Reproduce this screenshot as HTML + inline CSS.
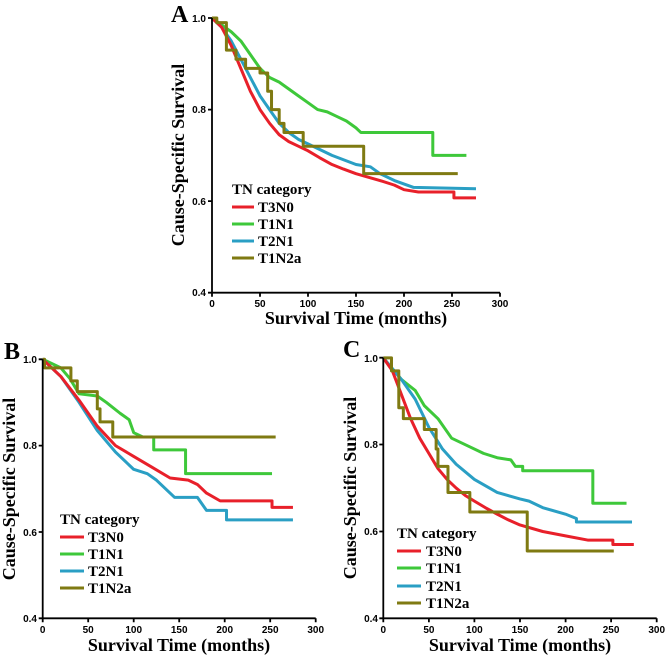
<!DOCTYPE html>
<html><head><style>
body{margin:0;background:#fff}
svg{display:block}
.t{font-family:"Liberation Sans",sans-serif;font-weight:bold;font-size:10px;fill:#000}
.ti{font-family:"Liberation Serif",serif;font-weight:bold;font-size:18px;fill:#000}
.lg{font-family:"Liberation Serif",serif;font-weight:bold;font-size:15px;fill:#000}
.pl{font-family:"Liberation Serif",serif;font-weight:bold;font-size:24px;fill:#000}
polyline{fill:none;stroke-width:3;stroke-linejoin:round}
.r{stroke:#e8202a}.g{stroke:#3ec83a}.b{stroke:#2a9fc4}.o{stroke:#7f7a12}
.ax{stroke:#000;stroke-width:1.8;fill:none}
</style></head><body>
<svg width="668" height="658" viewBox="0 0 668 658" xmlns="http://www.w3.org/2000/svg">
<!-- Panel A -->
<g transform="translate(212,292.7) scale(0.96,-457.8) translate(0,-0.4)">
<polyline vector-effect="non-scaling-stroke" class="g" points="0,1 10,0.985 20,0.97 30,0.95 40,0.92 50,0.89 55,0.88 60,0.87 70,0.86 80,0.845 90,0.83 100,0.815 110,0.80 120,0.795 130,0.785 140,0.775 150,0.76 155,0.75 230,0.75 230,0.70 265,0.70"/>
<polyline vector-effect="non-scaling-stroke" class="b" points="0,1 10,0.98 20,0.95 30,0.91 40,0.87 50,0.83 60,0.80 70,0.77 80,0.75 90,0.735 100,0.725 125,0.70 150,0.68 165,0.675 175,0.66 190,0.645 210,0.63 275,0.627"/>
<polyline vector-effect="non-scaling-stroke" class="r" points="0,1 10,0.98 20,0.94 30,0.89 40,0.84 50,0.80 60,0.77 70,0.745 80,0.73 90,0.72 100,0.71 112,0.695 125,0.68 137,0.67 150,0.66 175,0.645 190,0.635 200,0.625 215,0.62 252,0.62 252,0.607 275,0.607"/>
<polyline vector-effect="non-scaling-stroke" class="o" points="0,1 5,1 5,0.99 15,0.99 15,0.93 25,0.93 25,0.91 35,0.91 35,0.89 50,0.89 50,0.88 58,0.88 58,0.84 62,0.84 62,0.80 70,0.80 70,0.77 75,0.77 75,0.75 95,0.75 95,0.72 158,0.72 158,0.66 256,0.66"/>
</g>
<path class="ax" d="M212,18V292.7H500M208,18H212M208,109.6H212M208,201.1H212M208,292.7H212M212,292.7v4M260,292.7v4M308,292.7v4M356,292.7v4M404,292.7v4M452,292.7v4M500,292.7v4"/>
<g class="t" text-anchor="end"><text x="206" y="22">1.0</text><text x="206" y="113">0.8</text><text x="206" y="205">0.6</text><text x="206" y="296">0.4</text></g>
<g class="t" text-anchor="middle"><text x="212" y="307">0</text><text x="260" y="307">50</text><text x="308" y="307">100</text><text x="356" y="307">150</text><text x="404" y="307">200</text><text x="452" y="307">250</text><text x="500" y="307">300</text></g>
<text class="ti" x="356" y="324" text-anchor="middle">Survival Time (months)</text>
<text class="ti" transform="translate(184,155) rotate(-90)" text-anchor="middle">Cause-Specific Survival</text>
<text class="pl" x="171" y="22">A</text>
<text class="lg" x="232" y="194">TN category</text>
<g class="lg"><text x="258" y="212">T3N0</text><text x="258" y="229">T1N1</text><text x="258" y="246">T2N1</text><text x="258" y="263">T1N2a</text></g>
<path d="M232,207h22" class="r" stroke-width="3"/><path d="M232,224h22" class="g" stroke-width="3"/><path d="M232,241h22" class="b" stroke-width="3"/><path d="M232,258h22" class="o" stroke-width="3"/>

<!-- Panel B -->
<g transform="translate(42.7,618.3) scale(0.91,-431.7) translate(0,-0.4)">
<polyline vector-effect="non-scaling-stroke" class="g" points="0,1 20,0.98 30,0.955 40,0.92 60,0.915 70,0.90 85,0.875 95,0.86 100,0.83 110,0.82 122,0.82 122,0.79 157,0.79 157,0.735 252,0.735"/>
<polyline vector-effect="non-scaling-stroke" class="b" points="0,1 20,0.96 40,0.90 60,0.835 80,0.785 100,0.745 115,0.735 125,0.72 135,0.70 145,0.68 170,0.68 180,0.65 202,0.65 202,0.628 275,0.628"/>
<polyline vector-effect="non-scaling-stroke" class="r" points="0,1 20,0.96 40,0.905 60,0.845 80,0.80 100,0.775 120,0.75 140,0.725 160,0.72 170,0.71 180,0.69 195,0.672 252,0.672 252,0.657 275,0.657"/>
<polyline vector-effect="non-scaling-stroke" class="o" points="0,1 2,1 2,0.98 31,0.98 31,0.95 38,0.95 38,0.925 60,0.925 60,0.885 63,0.885 63,0.855 77,0.855 77,0.82 256,0.82"/>
</g>
<path class="ax" d="M42.7,359.3V618.3H315.7M38.7,359.3H42.7M38.7,445.6H42.7M38.7,532H42.7M38.7,618.3H42.7M42.7,618.3v4M88.2,618.3v4M133.7,618.3v4M179.2,618.3v4M224.7,618.3v4M270.2,618.3v4M315.7,618.3v4"/>
<g class="t" text-anchor="end"><text x="37" y="363">1.0</text><text x="37" y="449">0.8</text><text x="37" y="536">0.6</text><text x="37" y="622">0.4</text></g>
<g class="t" text-anchor="middle"><text x="42.7" y="633">0</text><text x="88.2" y="633">50</text><text x="133.7" y="633">100</text><text x="179.2" y="633">150</text><text x="224.7" y="633">200</text><text x="270.2" y="633">250</text><text x="315.7" y="633">300</text></g>
<text class="ti" x="179" y="651" text-anchor="middle">Survival Time (months)</text>
<text class="ti" transform="translate(15,489) rotate(-90)" text-anchor="middle">Cause-Specific Survival</text>
<text class="pl" x="4" y="359">B</text>
<text class="lg" x="60" y="524">TN category</text>
<g class="lg"><text x="88" y="542">T3N0</text><text x="88" y="559">T1N1</text><text x="88" y="576">T2N1</text><text x="88" y="593">T1N2a</text></g>
<path d="M60,537h24" class="r" stroke-width="3"/><path d="M60,554h24" class="g" stroke-width="3"/><path d="M60,571h24" class="b" stroke-width="3"/><path d="M60,588h24" class="o" stroke-width="3"/>

<!-- Panel C -->
<g transform="translate(383.3,618.3) scale(0.911,-434) translate(0,-0.4)">
<polyline vector-effect="non-scaling-stroke" class="g" points="0,1 20,0.95 35,0.925 45,0.89 60,0.86 75,0.815 90,0.80 110,0.78 125,0.77 140,0.765 145,0.75 153,0.75 153,0.74 230,0.74 230,0.665 267,0.665"/>
<polyline vector-effect="non-scaling-stroke" class="b" points="0,1 20,0.95 35,0.905 50,0.84 65,0.79 80,0.755 100,0.72 125,0.69 150,0.675 160,0.67 175,0.655 200,0.64 212,0.63 212,0.622 273,0.622"/>
<polyline vector-effect="non-scaling-stroke" class="r" points="0,1 10,0.97 20,0.915 30,0.86 40,0.815 50,0.78 60,0.745 70,0.72 80,0.70 90,0.683 100,0.67 112,0.655 125,0.64 137,0.627 150,0.615 175,0.60 200,0.59 225,0.58 252,0.58 252,0.57 275,0.57"/>
<polyline vector-effect="non-scaling-stroke" class="o" points="0,1 9,1 9,0.97 17,0.97 17,0.885 22,0.885 22,0.86 45,0.86 45,0.835 58,0.835 58,0.79 60,0.79 60,0.75 71,0.75 71,0.69 95,0.69 95,0.645 158,0.645 158,0.555 253,0.555"/>
</g>
<path class="ax" d="M383.3,357.7V618.3H656.7M379.3,357.7H383.3M379.3,444.5H383.3M379.3,531.5H383.3M379.3,618.3H383.3M383.3,618.3v4M428.9,618.3v4M474.4,618.3v4M520,618.3v4M565.6,618.3v4M611.1,618.3v4M656.7,618.3v4"/>
<g class="t" text-anchor="end"><text x="378" y="362">1.0</text><text x="378" y="448">0.8</text><text x="378" y="535">0.6</text><text x="378" y="622">0.4</text></g>
<g class="t" text-anchor="middle"><text x="383.3" y="633">0</text><text x="428.9" y="633">50</text><text x="474.4" y="633">100</text><text x="520" y="633">150</text><text x="565.6" y="633">200</text><text x="611.1" y="633">250</text><text x="656.7" y="633">300</text></g>
<text class="ti" x="520" y="651" text-anchor="middle">Survival Time (months)</text>
<text class="ti" transform="translate(356,488) rotate(-90)" text-anchor="middle">Cause-Specific Survival</text>
<text class="pl" x="343" y="357">C</text>
<text class="lg" x="397" y="538">TN category</text>
<g class="lg"><text x="426" y="556">T3N0</text><text x="426" y="573">T1N1</text><text x="426" y="591">T2N1</text><text x="426" y="608">T1N2a</text></g>
<path d="M397,551h24" class="r" stroke-width="3"/><path d="M397,568h24" class="g" stroke-width="3"/><path d="M397,586h24" class="b" stroke-width="3"/><path d="M397,603h24" class="o" stroke-width="3"/>
</svg>
</body></html>
